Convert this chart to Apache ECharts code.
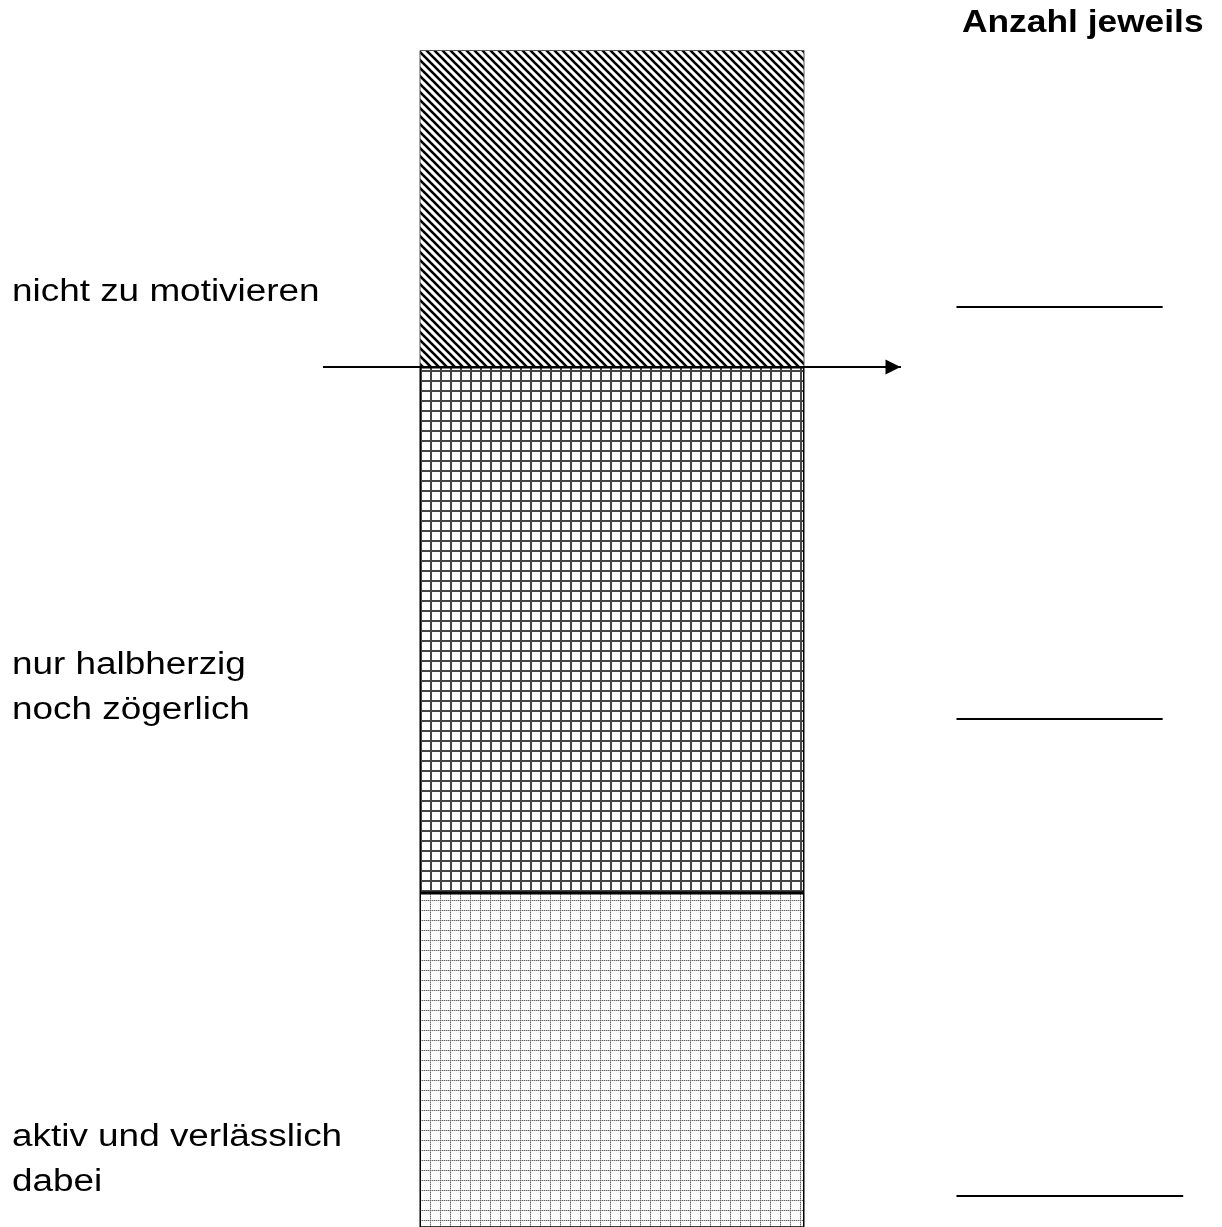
<!DOCTYPE html>
<html>
<head>
<meta charset="utf-8">
<script src="https://cdn.jsdelivr.net/npm/echarts@6/dist/echarts.min.js"></script>
<style>
  html, body { margin: 0; padding: 0; background: #fff; }
  #chart { width: 1222px; height: 1227px; }
</style>
</head>
<body>
<div id="chart"></div>
<script>
// Daten (Höhen der drei Abschnitte, aus dem Bild geschätzt)
const categories = ['Gruppe'];
const aktivWerte = [344];
const halbWerte = [526];
const nichtWerte = [317];
const achseMin = 10;
const achseMax = 1187;

// Muster als kleine Canvas-Kacheln
function diagonalMuster() {
    const c = document.createElement('canvas');
    c.width = 8; c.height = 8;
    const ctx = c.getContext('2d');
    ctx.fillStyle = '#fff';
    ctx.fillRect(0, 0, 8, 8);
    ctx.strokeStyle = '#000';
    ctx.lineWidth = 2.6;
    [-8, 0, 8].forEach(d => {
        ctx.beginPath();
        ctx.moveTo(d - 1, -1);
        ctx.lineTo(d + 9, 9);
        ctx.stroke();
    });
    return c;
}

function gitterMuster() {
    const c = document.createElement('canvas');
    c.width = 10; c.height = 10;
    const ctx = c.getContext('2d');
    ctx.fillStyle = '#fcfcfc';
    ctx.fillRect(0, 0, 10, 10);
    ctx.fillStyle = '#444';
    ctx.fillRect(0, 0, 10, 2);
    ctx.fillRect(0, 0, 2, 10);
    return c;
}

function punktMuster() {
    const c = document.createElement('canvas');
    c.width = 10; c.height = 10;
    const ctx = c.getContext('2d');
    ctx.fillStyle = '#fdfdfd';
    ctx.fillRect(0, 0, 10, 10);
    ctx.fillStyle = '#666';
    for (let i = 0; i < 10; i += 2) {
        ctx.fillRect(0, i, 1, 1);
        ctx.fillRect(i, 0, 1, 1);
    }
    ctx.fillStyle = '#bbb';
    for (let i = 1; i < 10; i += 2) {
        ctx.fillRect(0, i, 1, 1);
        ctx.fillRect(i, 0, 1, 1);
    }
    return c;
}

const chart = echarts.init(document.getElementById('chart'));

const schrift = 'Liberation Sans, Arial, sans-serif';
// Die Vorlage ist horizontal gestreckt
const streckung = 1.19;

function text(str, x, y, opts, sx) {
    return {
        type: 'text',
        x: x, y: y,
        scaleX: sx || streckung,
        style: Object.assign({
            text: str,
            font: '31px ' + schrift,
            fill: '#000',
            verticalAlign: 'middle'
        }, opts || {})
    };
}

const option = {
    animation: false,
    grid: { left: 323, right: 321, top: 50, bottom: 0 },
    xAxis: { type: 'category', data: categories, show: false },
    yAxis: { type: 'value', min: achseMin, max: achseMax, show: false },
    series: [
        {
            type: 'bar', stack: 'a', data: aktivWerte, barWidth: 385, clip: true,
            itemStyle: { color: { image: punktMuster(), repeat: 'repeat' }, borderColor: '#000', borderWidth: 1.5 }
        },
        {
            type: 'bar', stack: 'a', data: halbWerte, clip: true,
            itemStyle: { color: { image: gitterMuster(), repeat: 'repeat' }, borderColor: '#000', borderWidth: 1.5 }
        },
        {
            type: 'bar', stack: 'a', data: nichtWerte, clip: true,
            itemStyle: { color: { image: diagonalMuster(), repeat: 'repeat' }, borderColor: '#555', borderWidth: 1 },
            markLine: {
                silent: true,
                symbol: ['none', 'triangle'],
                symbolSize: 15,
                symbolOffset: [0, [0, 8]],
                label: { show: false },
                lineStyle: { color: '#000', width: 2, type: 'solid' },
                data: [{ yAxis: aktivWerte[0] + halbWerte[0] }]
            }
        }
    ],
    graphic: [
        text('Anzahl jeweils', 962, 23, { font: 'bold 31px ' + schrift }, 1.14),
        text('nicht zu motivieren', 12, 292),
        text('nur halbherzig', 12, 665),
        text('noch zögerlich', 12, 710),
        text('aktiv und verlässlich', 12, 1137),
        text('dabei', 12, 1182),
        text('__________', 957, 293),
        text('__________', 957, 705),
        text('___________', 957, 1182)
    ]
};

chart.setOption(option);
</script>
</body>
</html>
